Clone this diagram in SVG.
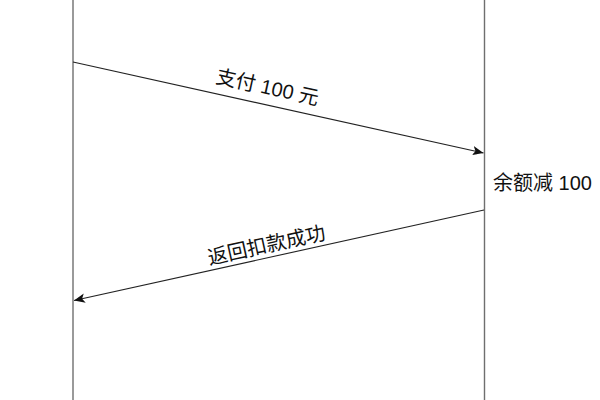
<svg xmlns="http://www.w3.org/2000/svg" width="600" height="400" viewBox="0 0 600 400">
<style>
.life{stroke:#6f6f6f;stroke-width:1.4;fill:none}
.msg{stroke:#222;stroke-width:1.1;fill:none;marker-end:url(#ah)}
.lbl{font-family:"Liberation Sans","Noto Sans CJK SC",sans-serif;font-size:20px;fill:#111}
</style>
<defs>
<marker id="ah" viewBox="0 0 10 10" refX="10" refY="5" markerWidth="11" markerHeight="11" markerUnits="userSpaceOnUse" orient="auto">
<path d="M0,0.8 L10,5 L0,9.2 L2.5,5 Z" fill="#111"/>
</marker>
</defs>
<rect width="600" height="400" fill="#fff"/>
<g id="lifeline-left"><line class="life" x1="73" y1="0" x2="73" y2="400"/></g>
<g id="lifeline-right"><line class="life" x1="484.5" y1="0" x2="484.5" y2="400"/>
<text class="lbl" x="493" y="189.5">余额减 100</text></g>
<g id="connectors">
<line class="msg" x1="73" y1="62" x2="483.5" y2="153"/>
<text class="lbl" x="266" y="94" text-anchor="middle" transform="rotate(12.5 266 94)">支付 100 元</text>
<line class="msg" x1="484" y1="210" x2="74" y2="300.5"/>
<text class="lbl" x="268" y="252" text-anchor="middle" transform="rotate(-12.4 268 252)">返回扣款成功</text>
</g>
</svg>
